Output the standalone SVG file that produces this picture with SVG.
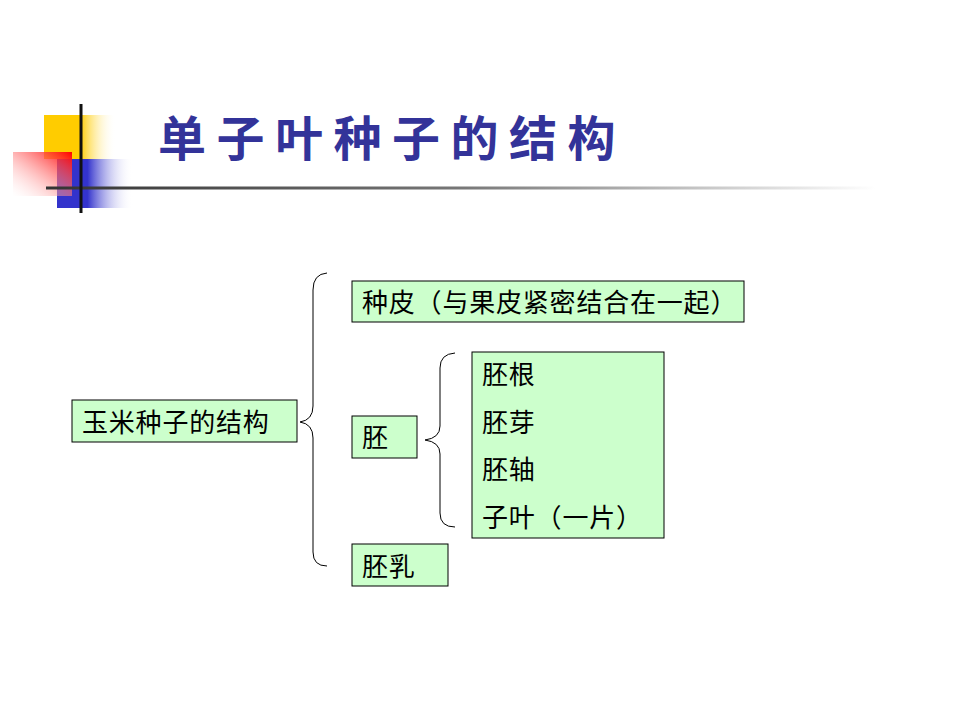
<svg xmlns="http://www.w3.org/2000/svg" width="960" height="720" viewBox="0 0 960 720">
<defs>
<linearGradient id="gy" x1="0" y1="0" x2="1" y2="0"><stop offset="0" stop-color="#FFCC00"/><stop offset="0.5" stop-color="#FFCC00"/><stop offset="1" stop-color="#FFFFFF" stop-opacity="0"/></linearGradient>
<linearGradient id="gb" x1="0" y1="0" x2="1" y2="0"><stop offset="0" stop-color="#3333CC"/><stop offset="0.4" stop-color="#3333CC"/><stop offset="1" stop-color="#FFFFFF" stop-opacity="0"/></linearGradient>
<linearGradient id="gr" x1="1" y1="0" x2="0" y2="1"><stop offset="0" stop-color="#FF0000"/><stop offset="1" stop-color="#FFFFFF" stop-opacity="0.2"/></linearGradient>
<linearGradient id="gl" x1="0" y1="0" x2="1" y2="0"><stop offset="0" stop-color="#333333"/><stop offset="0.5" stop-color="#777777"/><stop offset="1" stop-color="#FFFFFF"/></linearGradient>
</defs>
<style>
.box{fill:#CCFFCC;stroke:#000;stroke-width:1}
.t{font-family:"Noto Sans CJK SC","Liberation Sans",sans-serif;font-size:26px;letter-spacing:0.8px;fill:#000}
.br{fill:none;stroke:#000;stroke-width:1}
</style>
<rect width="960" height="720" fill="#fff"/>
<g id="decor">
<rect x="44" y="115" width="72" height="44" fill="url(#gy)"/>
<rect x="57" y="159" width="76" height="49" fill="url(#gb)"/>
<rect x="13" y="152" width="59" height="44" fill="url(#gr)"/>
<rect x="46" y="186.5" width="830" height="3" fill="url(#gl)"/>
<rect x="79.5" y="104" width="3" height="109" fill="#111"/>
</g>
<g id="title">
<text x="158" y="156" font-family="'Noto Sans CJK SC',sans-serif" font-size="48" font-weight="bold" letter-spacing="10.5" fill="#333399">单子叶种子的结构</text>
</g>
<g id="connectors">
<path class="br" d="M327,273 Q313,274 313,290 L313,406 Q313,420 300,422 Q313,424 313,438 L313,552 Q313,566 327,566"/>
<path class="br" d="M455,353 Q440,354 440,368 L440,426 Q440,438 425,440 Q440,442 440,454 L440,513 Q440,527 455,527"/>
</g>
<g id="n-root"><rect class="box" x="72" y="400" width="225" height="42"/><text class="t" x="82" y="432">玉米种子的结构</text></g>
<g id="n-zhongpi"><rect class="box" x="352" y="281" width="392" height="41"/><text class="t" x="362" y="312">种皮（与果皮紧密结合在一起）</text></g>
<g id="n-pei"><rect class="box" x="352" y="416" width="65" height="42"/><text class="t" x="362" y="447">胚</text></g>
<g id="n-peiru"><rect class="box" x="352" y="544" width="96" height="42"/><text class="t" x="362" y="576">胚乳</text></g>
<g id="n-parts"><rect class="box" x="472" y="352" width="192" height="186"/>
<text class="t" x="482" y="384">胚根</text>
<text class="t" x="482" y="432">胚芽</text>
<text class="t" x="482" y="479">胚轴</text>
<text class="t" x="482" y="527">子叶（一片）</text>
</g>
</svg>
